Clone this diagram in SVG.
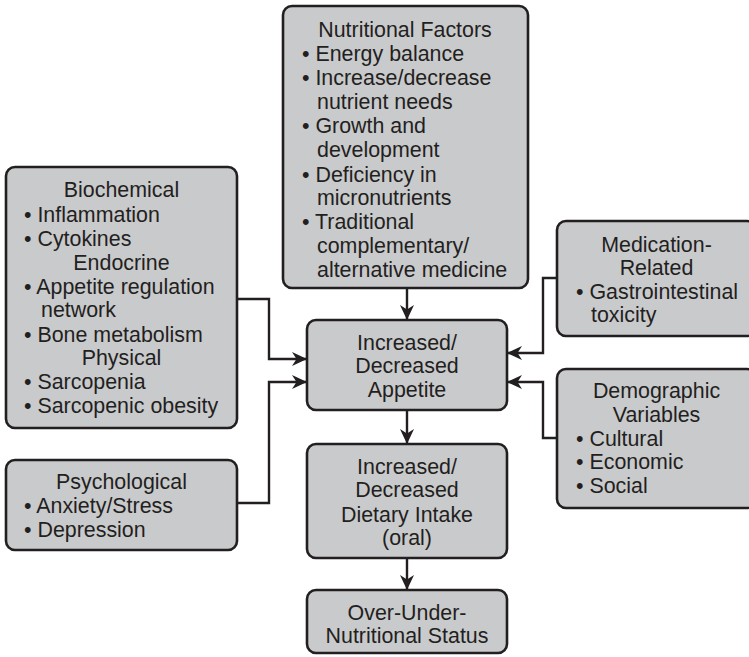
<svg xmlns="http://www.w3.org/2000/svg" width="749" height="657" viewBox="0 0 749 657">
  <style>
    .box { fill: #c9cacc; stroke: #231f20; stroke-width: 2.6; }
    .t { font-family: "Liberation Sans", Arial, sans-serif; font-size: 21.4px; fill: #231f20; }
    .c { text-anchor: middle; }
    .link { fill: none; stroke: #231f20; stroke-width: 2.4; marker-end: url(#arrow); }
  </style>
  <defs>
    <marker id="arrow" markerUnits="userSpaceOnUse" markerWidth="16" markerHeight="16" viewBox="0 0 16 16" refX="15" refY="8" orient="auto">
      <path d="M0,1 L15,8 L0,15 L4.5,8 Z" fill="#231f20"/>
    </marker>
  </defs>

  <rect width="749" height="657" fill="#ffffff"/>

  <!-- connectors -->
  <g id="connectors">
    <path class="link" d="M407,288 V320"/>
    <path class="link" d="M237,299 H269 V359 H307"/>
    <path class="link" d="M237,503 H269 V382 H307"/>
    <path class="link" d="M557,278 H543 V353 H507"/>
    <path class="link" d="M557,438 H543 V382 H507"/>
    <path class="link" d="M407,410 V444"/>
    <path class="link" d="M407,558 V590"/>
  </g>

  <g id="nutritional-factors">
    <rect class="box" x="283" y="6" width="245" height="282" rx="9"/>
    <text class="t c" x="405" y="37">Nutritional Factors</text>
    <text class="t" x="302" y="61">• Energy balance</text>
    <text class="t" x="302" y="85">• Increase/decrease</text>
    <text class="t" x="317" y="109">nutrient needs</text>
    <text class="t" x="302" y="133">• Growth and</text>
    <text class="t" x="317" y="157">development</text>
    <text class="t" x="302" y="182">• Deficiency in</text>
    <text class="t" x="317" y="205">micronutrients</text>
    <text class="t" x="302" y="229">• Traditional</text>
    <text class="t" x="317" y="253">complementary/</text>
    <text class="t" x="317" y="277">alternative medicine</text>
  </g>

  <g id="biochemical">
    <rect class="box" x="6" y="167" width="231" height="261" rx="9"/>
    <text class="t c" x="121.5" y="197">Biochemical</text>
    <text class="t" x="24" y="222">• Inflammation</text>
    <text class="t" x="24" y="246">• Cytokines</text>
    <text class="t c" x="121.5" y="270">Endocrine</text>
    <text class="t" x="24" y="294">• Appetite regulation</text>
    <text class="t" x="41" y="317">network</text>
    <text class="t" x="24" y="342">• Bone metabolism</text>
    <text class="t c" x="121.5" y="365">Physical</text>
    <text class="t" x="24" y="389">• Sarcopenia</text>
    <text class="t" x="24" y="413">• Sarcopenic obesity</text>
  </g>

  <g id="psychological">
    <rect class="box" x="6" y="460" width="231" height="90" rx="9"/>
    <text class="t c" x="121.5" y="489">Psychological</text>
    <text class="t" x="24" y="513">• Anxiety/Stress</text>
    <text class="t" x="24" y="537">• Depression</text>
  </g>

  <g id="appetite">
    <rect class="box" x="307" y="320" width="200" height="90" rx="9"/>
    <text class="t c" x="407" y="350">Increased/</text>
    <text class="t c" x="407" y="373">Decreased</text>
    <text class="t c" x="407" y="397">Appetite</text>
  </g>

  <g id="dietary-intake">
    <rect class="box" x="307" y="444" width="200" height="114" rx="9"/>
    <text class="t c" x="407" y="474">Increased/</text>
    <text class="t c" x="407" y="497">Decreased</text>
    <text class="t c" x="407" y="522">Dietary Intake</text>
    <text class="t c" x="407" y="545">(oral)</text>
  </g>

  <g id="nutritional-status">
    <rect class="box" x="307" y="590" width="200" height="63" rx="9"/>
    <text class="t c" x="407" y="620">Over-Under-</text>
    <text class="t c" x="407" y="643">Nutritional Status</text>
  </g>

  <g id="medication-related">
    <rect class="box" x="557" y="221" width="199" height="115" rx="9"/>
    <text class="t c" x="656.5" y="252">Medication-</text>
    <text class="t c" x="656.5" y="275">Related</text>
    <text class="t" x="576" y="299">• Gastrointestinal</text>
    <text class="t" x="591" y="322">toxicity</text>
  </g>

  <g id="demographic-variables">
    <rect class="box" x="557" y="369" width="199" height="139" rx="9"/>
    <text class="t c" x="656.5" y="398">Demographic</text>
    <text class="t c" x="656.5" y="422">Variables</text>
    <text class="t" x="576" y="446">• Cultural</text>
    <text class="t" x="576" y="469">• Economic</text>
    <text class="t" x="576" y="493">• Social</text>
  </g>
</svg>
